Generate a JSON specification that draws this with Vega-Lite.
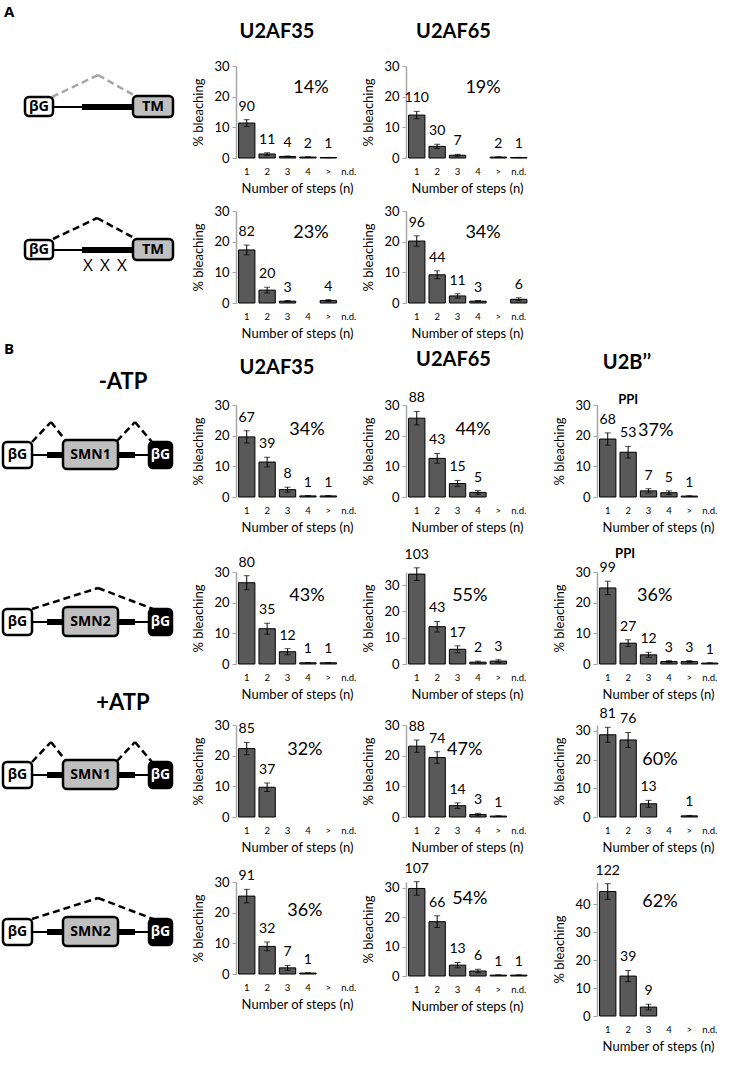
{
"$schema": "https://vega.github.io/schema/vega-lite/v6.json",
"padding": {"top": 5, "left": 0, "right": 0, "bottom": 0},
"background": "white",
"columns": 4,
"spacing": {"row": 20, "column": 48},
"bounds": "flush",
"datasets": {
"bars": [
{"c":"A1c1","cat":"1","val":11.4,"err":1.1,"n":90},{"c":"A1c1","cat":"2","val":1.3,"err":0.4,"n":11},{"c":"A1c1","cat":"3","val":0.5,"err":0.15,"n":4},{"c":"A1c1","cat":"4","val":0.3,"err":0.1,"n":2},{"c":"A1c1","cat":">","val":0.15,"err":0.05,"n":1},
{"c":"A1c2","cat":"1","val":14.0,"err":1.2,"n":110},{"c":"A1c2","cat":"2","val":3.8,"err":0.7,"n":30},{"c":"A1c2","cat":"3","val":0.9,"err":0.3,"n":7},{"c":"A1c2","cat":">","val":0.3,"err":0.1,"n":2},{"c":"A1c2","cat":"n.d.","val":0.15,"err":0.05,"n":1},
{"c":"A2c1","cat":"1","val":17.3,"err":1.6,"n":82},{"c":"A2c1","cat":"2","val":4.2,"err":0.9,"n":20},{"c":"A2c1","cat":"3","val":0.6,"err":0.2,"n":3},{"c":"A2c1","cat":">","val":0.8,"err":0.3,"n":4},
{"c":"A2c2","cat":"1","val":20.2,"err":1.7,"n":96},{"c":"A2c2","cat":"2","val":9.2,"err":1.3,"n":44},{"c":"A2c2","cat":"3","val":2.3,"err":0.7,"n":11},{"c":"A2c2","cat":"4","val":0.6,"err":0.2,"n":3},{"c":"A2c2","cat":"n.d.","val":1.2,"err":0.5,"n":6},
{"c":"B1c1","cat":"1","val":19.6,"err":2.0,"n":67},{"c":"B1c1","cat":"2","val":11.4,"err":1.6,"n":39},{"c":"B1c1","cat":"3","val":2.4,"err":0.8,"n":8},{"c":"B1c1","cat":"4","val":0.35,"err":0.1,"n":1},{"c":"B1c1","cat":">","val":0.35,"err":0.1,"n":1},
{"c":"B1c2","cat":"1","val":25.7,"err":2.2,"n":88},{"c":"B1c2","cat":"2","val":12.6,"err":1.6,"n":43},{"c":"B1c2","cat":"3","val":4.4,"err":1.0,"n":15},{"c":"B1c2","cat":"4","val":1.5,"err":0.6,"n":5},
{"c":"B1c3","cat":"1","val":18.9,"err":2.0,"n":68},{"c":"B1c3","cat":"2","val":14.6,"err":1.9,"n":53},{"c":"B1c3","cat":"3","val":2.0,"err":0.7,"n":7},{"c":"B1c3","cat":"4","val":1.4,"err":0.6,"n":5},{"c":"B1c3","cat":">","val":0.3,"err":0.1,"n":1},
{"c":"B2c1","cat":"1","val":26.5,"err":2.3,"n":80},{"c":"B2c1","cat":"2","val":11.5,"err":1.8,"n":35},{"c":"B2c1","cat":"3","val":4.0,"err":1.0,"n":12},{"c":"B2c1","cat":"4","val":0.4,"err":0.1,"n":1},{"c":"B2c1","cat":">","val":0.4,"err":0.1,"n":1},
{"c":"B2c2","cat":"1","val":34.2,"err":2.4,"n":103},{"c":"B2c2","cat":"2","val":14.2,"err":2.0,"n":43},{"c":"B2c2","cat":"3","val":5.6,"err":1.3,"n":17},{"c":"B2c2","cat":"4","val":0.7,"err":0.4,"n":2},{"c":"B2c2","cat":">","val":1.1,"err":0.5,"n":3},
{"c":"B2c3","cat":"1","val":24.8,"err":2.2,"n":99},{"c":"B2c3","cat":"2","val":6.8,"err":1.1,"n":27},{"c":"B2c3","cat":"3","val":3.0,"err":0.8,"n":12},{"c":"B2c3","cat":"4","val":0.8,"err":0.3,"n":3},{"c":"B2c3","cat":">","val":0.8,"err":0.3,"n":3},{"c":"B2c3","cat":"n.d.","val":0.3,"err":0.1,"n":1},
{"c":"B3c1","cat":"1","val":22.3,"err":2.0,"n":85},{"c":"B3c1","cat":"2","val":9.7,"err":1.4,"n":37},
{"c":"B3c2","cat":"1","val":23.1,"err":2.0,"n":88},{"c":"B3c2","cat":"2","val":19.4,"err":1.9,"n":74},{"c":"B3c2","cat":"3","val":3.7,"err":0.9,"n":14},{"c":"B3c2","cat":"4","val":0.8,"err":0.4,"n":3},{"c":"B3c2","cat":">","val":0.3,"err":0.1,"n":1},
{"c":"B3c3","cat":"1","val":28.6,"err":2.6,"n":81},{"c":"B3c3","cat":"2","val":26.8,"err":2.6,"n":76},{"c":"B3c3","cat":"3","val":4.6,"err":1.2,"n":13},{"c":"B3c3","cat":">","val":0.4,"err":0.15,"n":1},
{"c":"B4c1","cat":"1","val":25.4,"err":2.2,"n":91},{"c":"B4c1","cat":"2","val":9.0,"err":1.4,"n":32},{"c":"B4c1","cat":"3","val":2.0,"err":0.8,"n":7},{"c":"B4c1","cat":"4","val":0.3,"err":0.1,"n":1},
{"c":"B4c2","cat":"1","val":29.8,"err":2.3,"n":107},{"c":"B4c2","cat":"2","val":18.5,"err":2.0,"n":66},{"c":"B4c2","cat":"3","val":3.7,"err":0.9,"n":13},{"c":"B4c2","cat":"4","val":1.7,"err":0.6,"n":6},{"c":"B4c2","cat":">","val":0.3,"err":0.1,"n":1},{"c":"B4c2","cat":"n.d.","val":0.3,"err":0.1,"n":1},
{"c":"B4c3","cat":"1","val":44.6,"err":2.8,"n":122},{"c":"B4c3","cat":"2","val":14.3,"err":2.0,"n":39},{"c":"B4c3","cat":"3","val":3.2,"err":1.0,"n":9}
],
"notes": [
{"c":"A1c1","k":"pct","xi":3.15,"yv":22.8,"t":"14%"},{"c":"A1c2","k":"pct","xi":3.25,"yv":22.8,"t":"19%"},
{"c":"A2c1","k":"pct","xi":3.15,"yv":22.8,"t":"23%"},{"c":"A2c2","k":"pct","xi":3.25,"yv":22.8,"t":"34%"},
{"c":"B1c1","k":"pct","xi":2.95,"yv":21.8,"t":"34%"},{"c":"B1c2","k":"pct","xi":2.76,"yv":21.8,"t":"44%"},{"c":"B1c3","k":"pct","xi":2.35,"yv":21.5,"t":"37%"},{"c":"B1c3","k":"ppi","xi":1.0,"yv":31.6,"t":"PPI"},
{"c":"B2c1","k":"pct","xi":2.95,"yv":22.3,"t":"43%"},{"c":"B2c2","k":"pct","xi":2.6,"yv":26,"t":"55%"},{"c":"B2c3","k":"pct","xi":2.3,"yv":22.3,"t":"36%"},{"c":"B2c3","k":"ppi","xi":0.85,"yv":35.8,"t":"PPI"},
{"c":"B3c1","k":"pct","xi":2.85,"yv":22,"t":"32%"},{"c":"B3c2","k":"pct","xi":2.35,"yv":22,"t":"47%"},{"c":"B3c3","k":"pct","xi":2.56,"yv":19.7,"t":"60%"},
{"c":"B4c1","k":"pct","xi":2.85,"yv":20.5,"t":"36%"},{"c":"B4c2","k":"pct","xi":2.6,"yv":26.2,"t":"54%"},{"c":"B4c3","k":"pct","xi":2.56,"yv":41,"t":"62%"}
],
"schem": [
{"r":"A1","e":"panel","x":4,"y":-61,"t":"A"},
{"r":"A1","e":"dashg","x":52,"y":31,"x2":98,"y2":9},{"r":"A1","e":"dashg","x":98,"y":9,"x2":137,"y2":31},
{"r":"A1","e":"thin","x":53,"y":41,"x2":82,"y2":41},{"r":"A1","e":"thick","x":82,"y":41,"x2":134,"y2":41},
{"r":"A1","e":"box","k":"white","x":25,"y":31,"x2":53,"y2":50},{"r":"A1","e":"box","k":"gray","x":133,"y":30,"x2":173,"y2":51},
{"r":"A1","e":"lbl","x":39,"y":40.5,"t":"βG"},{"r":"A1","e":"lbl","x":153,"y":40.5,"t":"TM"},
{"r":"A2","e":"dash","x":53,"y":28,"x2":97,"y2":7},{"r":"A2","e":"dash","x":97,"y":7,"x2":136,"y2":28},
{"r":"A2","e":"thin","x":53,"y":39,"x2":82,"y2":39},{"r":"A2","e":"thick","x":82,"y":39,"x2":134,"y2":39},
{"r":"A2","e":"box","k":"white","x":25,"y":29,"x2":53,"y2":48},{"r":"A2","e":"box","k":"gray","x":133,"y":28,"x2":173,"y2":49},
{"r":"A2","e":"lbl","x":39,"y":38.5,"t":"βG"},{"r":"A2","e":"lbl","x":153,"y":38.5,"t":"TM"},
{"r":"A2","e":"X","x":88,"y":55,"t":"X"},{"r":"A2","e":"X","x":105,"y":55,"t":"X"},{"r":"A2","e":"X","x":122,"y":55,"t":"X"},
{"r":"B1","e":"panel","x":4,"y":-63,"t":"B"},{"r":"B1","e":"cond","x":123,"y":-23,"t":"-ATP"},
{"r":"B1","e":"dash","x":32,"y":37,"x2":51,"y2":17},{"r":"B1","e":"dash","x":51,"y":17,"x2":66,"y2":36},{"r":"B1","e":"dash","x":117,"y":36,"x2":135,"y2":17},{"r":"B1","e":"dash","x":135,"y":17,"x2":152,"y2":37},
{"r":"B1","e":"thin","x":33,"y":50,"x2":150,"y2":50},{"r":"B1","e":"thick","x":47,"y":50,"x2":63,"y2":50},{"r":"B1","e":"thick","x":118,"y":50,"x2":135,"y2":50},
{"r":"B1","e":"box","k":"white","x":3,"y":37,"x2":32,"y2":63},{"r":"B1","e":"box","k":"gray","x":63,"y":35,"x2":118,"y2":64},{"r":"B1","e":"box","k":"black","x":149,"y":37,"x2":172,"y2":63},
{"r":"B1","e":"lbl","x":17.5,"y":50,"t":"βG"},{"r":"B1","e":"lbl","x":90.5,"y":50,"t":"SMN1"},{"r":"B1","e":"lblw","x":160.5,"y":50,"t":"βG"},
{"r":"B2","e":"dash","x":32,"y":37,"x2":98,"y2":16},{"r":"B2","e":"dash","x":98,"y":16,"x2":153,"y2":37},
{"r":"B2","e":"thin","x":33,"y":50,"x2":150,"y2":50},{"r":"B2","e":"thick","x":47,"y":50,"x2":63,"y2":50},{"r":"B2","e":"thick","x":118,"y":50,"x2":135,"y2":50},
{"r":"B2","e":"box","k":"white","x":3,"y":37,"x2":32,"y2":63},{"r":"B2","e":"box","k":"gray","x":63,"y":35,"x2":118,"y2":64},{"r":"B2","e":"box","k":"black","x":149,"y":37,"x2":172,"y2":63},
{"r":"B2","e":"lbl","x":17.5,"y":50,"t":"βG"},{"r":"B2","e":"lbl","x":90.5,"y":50,"t":"SMN2"},{"r":"B2","e":"lblw","x":160.5,"y":50,"t":"βG"},
{"r":"B3","e":"cond","x":123,"y":-22,"t":"+ATP"},
{"r":"B3","e":"dash","x":32,"y":37,"x2":51,"y2":17},{"r":"B3","e":"dash","x":51,"y":17,"x2":66,"y2":36},{"r":"B3","e":"dash","x":117,"y":36,"x2":135,"y2":17},{"r":"B3","e":"dash","x":135,"y":17,"x2":152,"y2":37},
{"r":"B3","e":"thin","x":33,"y":50,"x2":150,"y2":50},{"r":"B3","e":"thick","x":47,"y":50,"x2":63,"y2":50},{"r":"B3","e":"thick","x":118,"y":50,"x2":135,"y2":50},
{"r":"B3","e":"box","k":"white","x":3,"y":37,"x2":32,"y2":63},{"r":"B3","e":"box","k":"gray","x":63,"y":35,"x2":118,"y2":64},{"r":"B3","e":"box","k":"black","x":149,"y":37,"x2":172,"y2":63},
{"r":"B3","e":"lbl","x":17.5,"y":50,"t":"βG"},{"r":"B3","e":"lbl","x":90.5,"y":50,"t":"SMN1"},{"r":"B3","e":"lblw","x":160.5,"y":50,"t":"βG"},
{"r":"B4","e":"dash","x":32,"y":37,"x2":98,"y2":16},{"r":"B4","e":"dash","x":98,"y":16,"x2":153,"y2":37},
{"r":"B4","e":"thin","x":33,"y":50,"x2":150,"y2":50},{"r":"B4","e":"thick","x":47,"y":50,"x2":63,"y2":50},{"r":"B4","e":"thick","x":118,"y":50,"x2":135,"y2":50},
{"r":"B4","e":"box","k":"white","x":3,"y":37,"x2":32,"y2":63},{"r":"B4","e":"box","k":"gray","x":63,"y":35,"x2":118,"y2":64},{"r":"B4","e":"box","k":"black","x":149,"y":37,"x2":172,"y2":63},
{"r":"B4","e":"lbl","x":17.5,"y":50,"t":"βG"},{"r":"B4","e":"lbl","x":90.5,"y":50,"t":"SMN2"},{"r":"B4","e":"lblw","x":160.5,"y":50,"t":"βG"}
]
},
"concat": [
{"width":188,"height":125,"data":{"name":"schem"},"transform":[{"filter":"datum.r==='A1'"}],"layer":[
{"transform":[{"filter":"datum.e==='dashg'"}],"mark":{"type":"rule","strokeDash":[7,4],"strokeWidth":2.5,"color":"#a6a6a6"},"encoding":{"x":{"field":"x","type":"quantitative","scale":{"domain":[0,188],"nice":false,"zero":false},"axis":null},"y":{"field":"y","type":"quantitative","scale":{"domain":[0,125],"reverse":true,"nice":false,"zero":false},"axis":null},"x2":{"field":"x2"},"y2":{"field":"y2"}}},
{"transform":[{"filter":"datum.e==='thin'"}],"mark":{"type":"rule","strokeWidth":2,"color":"#000"},"encoding":{"x":{"field":"x","type":"quantitative"},"y":{"field":"y","type":"quantitative"},"x2":{"field":"x2"},"y2":{"field":"y2"}}},
{"transform":[{"filter":"datum.e==='thick'"}],"mark":{"type":"rule","strokeWidth":6,"color":"#000"},"encoding":{"x":{"field":"x","type":"quantitative"},"y":{"field":"y","type":"quantitative"},"x2":{"field":"x2"},"y2":{"field":"y2"}}},
{"transform":[{"filter":"datum.e==='box'"}],"mark":{"type":"rect","stroke":"#000","strokeWidth":2.5,"cornerRadius":4},"encoding":{"x":{"field":"x","type":"quantitative"},"y":{"field":"y","type":"quantitative"},"x2":{"field":"x2"},"y2":{"field":"y2"},"fill":{"field":"k","type":"nominal","scale":{"domain":["white","gray","black"],"range":["#ffffff","#bfbfbf","#000000"]},"legend":null}}},
{"transform":[{"filter":"datum.e==='lbl'"}],"mark":{"type":"text","font":"Open Sans","fontWeight":"bold","fontSize":14.5,"color":"#000"},"encoding":{"x":{"field":"x","type":"quantitative"},"y":{"field":"y","type":"quantitative"},"text":{"field":"t"}}},
{"transform":[{"filter":"datum.e==='panel'"}],"mark":{"type":"text","font":"Open Sans","fontWeight":"bold","fontSize":15,"align":"left","baseline":"top","color":"#000"},"encoding":{"x":{"field":"x","type":"quantitative"},"y":{"field":"y","type":"quantitative"},"text":{"field":"t"}}}
]},
{"width":122,"height":92,"title":{"text":"U2AF35","dx":-20},"layer":[
{"data":{"name":"bars"},"transform":[{"filter":"datum.c==='A1c1'"}],"layer":[
{"mark":{"type":"bar","fill":"#595959","stroke":"#000","strokeWidth":1},"encoding":{"x":{"field":"cat","type":"nominal","title":"Number of steps (n)","scale":{"domain":["1","2","3","4",">","n.d."],"paddingInner":0.2,"paddingOuter":0.09,"align":0.7}},"y":{"field":"val","type":"quantitative","scale":{"domain":[0,30]},"title":"% bleaching"}}},
{"mark":{"type":"errorbar","ticks":true,"color":"#000","thickness":1,"size":6},"encoding":{"x":{"field":"cat","type":"nominal","title":"Number of steps (n)"},"y":{"field":"val","type":"quantitative","scale":{"domain":[0,30]},"title":"% bleaching"},"yError":{"field":"err"}}},
{"transform":[{"calculate":"datum.val+datum.err","as":"top"}],"mark":{"type":"text","baseline":"bottom","dy":-6},"encoding":{"x":{"field":"cat","type":"nominal","title":"Number of steps (n)"},"y":{"field":"top","type":"quantitative","scale":{"domain":[0,30]},"title":"% bleaching"},"text":{"field":"n"}}}
]},
{"data":{"name":"notes"},"transform":[{"filter":"datum.c==='A1c1' && datum.k==='pct'"}],"mark":{"type":"text","fontSize":18},"encoding":{"x":{"field":"xi","type":"quantitative","scale":{"domain":[-0.527,5.453],"nice":false,"zero":false},"axis":null},"y":{"field":"yv","type":"quantitative","scale":{"domain":[0,30]},"title":"% bleaching"},"text":{"field":"t"}}}
],"resolve":{"scale":{"x":"independent"}}},
{"width":143,"height":92,"title":{"text":"U2AF65","dx":-24},"layer":[
{"data":{"name":"bars"},"transform":[{"filter":"datum.c==='A1c2'"}],"layer":[
{"mark":{"type":"bar","fill":"#595959","stroke":"#000","strokeWidth":1},"encoding":{"x":{"field":"cat","type":"nominal","title":"Number of steps (n)","scale":{"domain":["1","2","3","4",">","n.d."],"paddingInner":0.2,"paddingOuter":0.605,"align":0.105},"axis":{"titleX":61}},"y":{"field":"val","type":"quantitative","scale":{"domain":[0,30]},"title":"% bleaching"}}},
{"mark":{"type":"errorbar","ticks":true,"color":"#000","thickness":1,"size":6},"encoding":{"x":{"field":"cat","type":"nominal","title":"Number of steps (n)"},"y":{"field":"val","type":"quantitative","scale":{"domain":[0,30]},"title":"% bleaching"},"yError":{"field":"err"}}},
{"transform":[{"calculate":"datum.val+datum.err","as":"top"}],"mark":{"type":"text","baseline":"bottom","dy":-6},"encoding":{"x":{"field":"cat","type":"nominal","title":"Number of steps (n)"},"y":{"field":"top","type":"quantitative","scale":{"domain":[0,30]},"title":"% bleaching"},"text":{"field":"n"}}}
]},
{"data":{"name":"notes"},"transform":[{"filter":"datum.c==='A1c2' && datum.k==='pct'"}],"mark":{"type":"text","fontSize":18},"encoding":{"x":{"field":"xi","type":"quantitative","scale":{"domain":[-0.527,6.483],"nice":false,"zero":false},"axis":null},"y":{"field":"yv","type":"quantitative","scale":{"domain":[0,30]},"title":"% bleaching"},"text":{"field":"t"}}}
],"resolve":{"scale":{"x":"independent"}}},
{"width":122,"height":10,"data":{"values":[]},"mark":"point"},

{"width":188,"height":174,"data":{"name":"schem"},"transform":[{"filter":"datum.r==='A2'"}],"layer":[
{"transform":[{"filter":"datum.e==='dash'"}],"mark":{"type":"rule","strokeDash":[7,4],"strokeWidth":2.5,"color":"#000"},"encoding":{"x":{"field":"x","type":"quantitative","scale":{"domain":[0,188],"nice":false,"zero":false},"axis":null},"y":{"field":"y","type":"quantitative","scale":{"domain":[0,174],"reverse":true,"nice":false,"zero":false},"axis":null},"x2":{"field":"x2"},"y2":{"field":"y2"}}},
{"transform":[{"filter":"datum.e==='thin'"}],"mark":{"type":"rule","strokeWidth":2,"color":"#000"},"encoding":{"x":{"field":"x","type":"quantitative"},"y":{"field":"y","type":"quantitative"},"x2":{"field":"x2"},"y2":{"field":"y2"}}},
{"transform":[{"filter":"datum.e==='thick'"}],"mark":{"type":"rule","strokeWidth":6,"color":"#000"},"encoding":{"x":{"field":"x","type":"quantitative"},"y":{"field":"y","type":"quantitative"},"x2":{"field":"x2"},"y2":{"field":"y2"}}},
{"transform":[{"filter":"datum.e==='box'"}],"mark":{"type":"rect","stroke":"#000","strokeWidth":2.5,"cornerRadius":4},"encoding":{"x":{"field":"x","type":"quantitative"},"y":{"field":"y","type":"quantitative"},"x2":{"field":"x2"},"y2":{"field":"y2"},"fill":{"field":"k","type":"nominal","scale":{"domain":["white","gray","black"],"range":["#ffffff","#bfbfbf","#000000"]},"legend":null}}},
{"transform":[{"filter":"datum.e==='lbl'"}],"mark":{"type":"text","font":"Open Sans","fontWeight":"bold","fontSize":14.5,"color":"#000"},"encoding":{"x":{"field":"x","type":"quantitative"},"y":{"field":"y","type":"quantitative"},"text":{"field":"t"}}},
{"transform":[{"filter":"datum.e==='X'"}],"mark":{"type":"text","font":"Open Sans","fontSize":17,"color":"#000"},"encoding":{"x":{"field":"x","type":"quantitative"},"y":{"field":"y","type":"quantitative"},"text":{"field":"t"}}}
]},
{"width":122,"height":92,"layer":[
{"data":{"name":"bars"},"transform":[{"filter":"datum.c==='A2c1'"}],"layer":[
{"mark":{"type":"bar","fill":"#595959","stroke":"#000","strokeWidth":1},"encoding":{"x":{"field":"cat","type":"nominal","title":"Number of steps (n)","scale":{"domain":["1","2","3","4",">","n.d."],"paddingInner":0.2,"paddingOuter":0.09,"align":0.7}},"y":{"field":"val","type":"quantitative","scale":{"domain":[0,30]},"title":"% bleaching"}}},
{"mark":{"type":"errorbar","ticks":true,"color":"#000","thickness":1,"size":6},"encoding":{"x":{"field":"cat","type":"nominal","title":"Number of steps (n)"},"y":{"field":"val","type":"quantitative","scale":{"domain":[0,30]},"title":"% bleaching"},"yError":{"field":"err"}}},
{"transform":[{"calculate":"datum.val+datum.err","as":"top"}],"mark":{"type":"text","baseline":"bottom","dy":-6},"encoding":{"x":{"field":"cat","type":"nominal","title":"Number of steps (n)"},"y":{"field":"top","type":"quantitative","scale":{"domain":[0,30]},"title":"% bleaching"},"text":{"field":"n"}}}
]},
{"data":{"name":"notes"},"transform":[{"filter":"datum.c==='A2c1' && datum.k==='pct'"}],"mark":{"type":"text","fontSize":18},"encoding":{"x":{"field":"xi","type":"quantitative","scale":{"domain":[-0.527,5.453],"nice":false,"zero":false},"axis":null},"y":{"field":"yv","type":"quantitative","scale":{"domain":[0,30]},"title":"% bleaching"},"text":{"field":"t"}}}
],"resolve":{"scale":{"x":"independent"}}},
{"width":143,"height":92,"layer":[
{"data":{"name":"bars"},"transform":[{"filter":"datum.c==='A2c2'"}],"layer":[
{"mark":{"type":"bar","fill":"#595959","stroke":"#000","strokeWidth":1},"encoding":{"x":{"field":"cat","type":"nominal","title":"Number of steps (n)","scale":{"domain":["1","2","3","4",">","n.d."],"paddingInner":0.2,"paddingOuter":0.605,"align":0.105},"axis":{"titleX":61}},"y":{"field":"val","type":"quantitative","scale":{"domain":[0,30]},"title":"% bleaching"}}},
{"mark":{"type":"errorbar","ticks":true,"color":"#000","thickness":1,"size":6},"encoding":{"x":{"field":"cat","type":"nominal","title":"Number of steps (n)"},"y":{"field":"val","type":"quantitative","scale":{"domain":[0,30]},"title":"% bleaching"},"yError":{"field":"err"}}},
{"transform":[{"calculate":"datum.val+datum.err","as":"top"}],"mark":{"type":"text","baseline":"bottom","dy":-6},"encoding":{"x":{"field":"cat","type":"nominal","title":"Number of steps (n)"},"y":{"field":"top","type":"quantitative","scale":{"domain":[0,30]},"title":"% bleaching"},"text":{"field":"n"}}}
]},
{"data":{"name":"notes"},"transform":[{"filter":"datum.c==='A2c2' && datum.k==='pct'"}],"mark":{"type":"text","fontSize":18},"encoding":{"x":{"field":"xi","type":"quantitative","scale":{"domain":[-0.527,6.483],"nice":false,"zero":false},"axis":null},"y":{"field":"yv","type":"quantitative","scale":{"domain":[0,30]},"title":"% bleaching"},"text":{"field":"t"}}}
],"resolve":{"scale":{"x":"independent"}}},
{"width":122,"height":10,"data":{"values":[]},"mark":"point"},

{"width":188,"height":147,"data":{"name":"schem"},"transform":[{"filter":"datum.r==='B1'"}],"layer":[
{"transform":[{"filter":"datum.e==='dash'"}],"mark":{"type":"rule","strokeDash":[7,4],"strokeWidth":2.5,"color":"#000"},"encoding":{"x":{"field":"x","type":"quantitative","scale":{"domain":[0,188],"nice":false,"zero":false},"axis":null},"y":{"field":"y","type":"quantitative","scale":{"domain":[0,147],"reverse":true,"nice":false,"zero":false},"axis":null},"x2":{"field":"x2"},"y2":{"field":"y2"}}},
{"transform":[{"filter":"datum.e==='thin'"}],"mark":{"type":"rule","strokeWidth":2,"color":"#000"},"encoding":{"x":{"field":"x","type":"quantitative"},"y":{"field":"y","type":"quantitative"},"x2":{"field":"x2"},"y2":{"field":"y2"}}},
{"transform":[{"filter":"datum.e==='thick'"}],"mark":{"type":"rule","strokeWidth":6,"color":"#000"},"encoding":{"x":{"field":"x","type":"quantitative"},"y":{"field":"y","type":"quantitative"},"x2":{"field":"x2"},"y2":{"field":"y2"}}},
{"transform":[{"filter":"datum.e==='box'"}],"mark":{"type":"rect","stroke":"#000","strokeWidth":2.5,"cornerRadius":4},"encoding":{"x":{"field":"x","type":"quantitative"},"y":{"field":"y","type":"quantitative"},"x2":{"field":"x2"},"y2":{"field":"y2"},"fill":{"field":"k","type":"nominal","scale":{"domain":["white","gray","black"],"range":["#ffffff","#bfbfbf","#000000"]},"legend":null}}},
{"transform":[{"filter":"datum.e==='lbl'"}],"mark":{"type":"text","font":"Open Sans","fontWeight":"bold","fontSize":14,"color":"#000"},"encoding":{"x":{"field":"x","type":"quantitative"},"y":{"field":"y","type":"quantitative"},"text":{"field":"t"}}},
{"transform":[{"filter":"datum.e==='lblw'"}],"mark":{"type":"text","font":"Open Sans","fontWeight":"bold","fontSize":14,"color":"#fff"},"encoding":{"x":{"field":"x","type":"quantitative"},"y":{"field":"y","type":"quantitative"},"text":{"field":"t"}}},
{"transform":[{"filter":"datum.e==='cond'"}],"mark":{"type":"text","fontWeight":"bold","fontSize":22,"color":"#000"},"encoding":{"x":{"field":"x","type":"quantitative"},"y":{"field":"y","type":"quantitative"},"text":{"field":"t"}}},
{"transform":[{"filter":"datum.e==='panel'"}],"mark":{"type":"text","font":"Open Sans","fontWeight":"bold","fontSize":15,"align":"left","baseline":"top","color":"#000"},"encoding":{"x":{"field":"x","type":"quantitative"},"y":{"field":"y","type":"quantitative"},"text":{"field":"t"}}}
]},
{"width":122,"height":92,"title":{"text":"U2AF35","dx":-20,"offset":21},"layer":[
{"data":{"name":"bars"},"transform":[{"filter":"datum.c==='B1c1'"}],"layer":[
{"mark":{"type":"bar","fill":"#595959","stroke":"#000","strokeWidth":1},"encoding":{"x":{"field":"cat","type":"nominal","title":"Number of steps (n)","scale":{"domain":["1","2","3","4",">","n.d."],"paddingInner":0.2,"paddingOuter":0.09,"align":0.7}},"y":{"field":"val","type":"quantitative","scale":{"domain":[0,30]},"title":"% bleaching"}}},
{"mark":{"type":"errorbar","ticks":true,"color":"#000","thickness":1,"size":6},"encoding":{"x":{"field":"cat","type":"nominal","title":"Number of steps (n)"},"y":{"field":"val","type":"quantitative","scale":{"domain":[0,30]},"title":"% bleaching"},"yError":{"field":"err"}}},
{"transform":[{"calculate":"datum.val+datum.err","as":"top"}],"mark":{"type":"text","baseline":"bottom","dy":-6},"encoding":{"x":{"field":"cat","type":"nominal","title":"Number of steps (n)"},"y":{"field":"top","type":"quantitative","scale":{"domain":[0,30]},"title":"% bleaching"},"text":{"field":"n"}}}
]},
{"data":{"name":"notes"},"transform":[{"filter":"datum.c==='B1c1' && datum.k==='pct'"}],"mark":{"type":"text","fontSize":18},"encoding":{"x":{"field":"xi","type":"quantitative","scale":{"domain":[-0.527,5.453],"nice":false,"zero":false},"axis":null},"y":{"field":"yv","type":"quantitative","scale":{"domain":[0,30]},"title":"% bleaching"},"text":{"field":"t"}}}
],"resolve":{"scale":{"x":"independent"}}},
{"width":143,"height":92,"title":{"text":"U2AF65","dx":-24,"offset":21},"layer":[
{"data":{"name":"bars"},"transform":[{"filter":"datum.c==='B1c2'"}],"layer":[
{"mark":{"type":"bar","fill":"#595959","stroke":"#000","strokeWidth":1},"encoding":{"x":{"field":"cat","type":"nominal","title":"Number of steps (n)","scale":{"domain":["1","2","3","4",">","n.d."],"paddingInner":0.2,"paddingOuter":0.605,"align":0.105},"axis":{"titleX":61}},"y":{"field":"val","type":"quantitative","scale":{"domain":[0,30]},"title":"% bleaching"}}},
{"mark":{"type":"errorbar","ticks":true,"color":"#000","thickness":1,"size":6},"encoding":{"x":{"field":"cat","type":"nominal","title":"Number of steps (n)"},"y":{"field":"val","type":"quantitative","scale":{"domain":[0,30]},"title":"% bleaching"},"yError":{"field":"err"}}},
{"transform":[{"calculate":"datum.val+datum.err","as":"top"}],"mark":{"type":"text","baseline":"bottom","dy":-6},"encoding":{"x":{"field":"cat","type":"nominal","title":"Number of steps (n)"},"y":{"field":"top","type":"quantitative","scale":{"domain":[0,30]},"title":"% bleaching"},"text":{"field":"n"}}}
]},
{"data":{"name":"notes"},"transform":[{"filter":"datum.c==='B1c2' && datum.k==='pct'"}],"mark":{"type":"text","fontSize":18},"encoding":{"x":{"field":"xi","type":"quantitative","scale":{"domain":[-0.527,6.483],"nice":false,"zero":false},"axis":null},"y":{"field":"yv","type":"quantitative","scale":{"domain":[0,30]},"title":"% bleaching"},"text":{"field":"t"}}}
],"resolve":{"scale":{"x":"independent"}}},
{"width":122,"height":92,"title":{"text":"U2B’’","dx":-31,"offset":21},"layer":[
{"data":{"name":"bars"},"transform":[{"filter":"datum.c==='B1c3'"}],"layer":[
{"mark":{"type":"bar","fill":"#595959","stroke":"#000","strokeWidth":1},"encoding":{"x":{"field":"cat","type":"nominal","title":"Number of steps (n)","scale":{"domain":["1","2","3","4",">","n.d."],"paddingInner":0.2,"paddingOuter":0.09,"align":0.7}},"y":{"field":"val","type":"quantitative","scale":{"domain":[0,30]},"title":"% bleaching"}}},
{"mark":{"type":"errorbar","ticks":true,"color":"#000","thickness":1,"size":6},"encoding":{"x":{"field":"cat","type":"nominal","title":"Number of steps (n)"},"y":{"field":"val","type":"quantitative","scale":{"domain":[0,30]},"title":"% bleaching"},"yError":{"field":"err"}}},
{"transform":[{"calculate":"datum.val+datum.err","as":"top"}],"mark":{"type":"text","baseline":"bottom","dy":-6},"encoding":{"x":{"field":"cat","type":"nominal","title":"Number of steps (n)"},"y":{"field":"top","type":"quantitative","scale":{"domain":[0,30]},"title":"% bleaching"},"text":{"field":"n"}}}
]},
{"data":{"name":"notes"},"transform":[{"filter":"datum.c==='B1c3' && datum.k==='pct'"}],"mark":{"type":"text","fontSize":18},"encoding":{"x":{"field":"xi","type":"quantitative","scale":{"domain":[-0.527,5.453],"nice":false,"zero":false},"axis":null},"y":{"field":"yv","type":"quantitative","scale":{"domain":[0,30]},"title":"% bleaching"},"text":{"field":"t"}}},
{"data":{"name":"notes"},"transform":[{"filter":"datum.c==='B1c3' && datum.k==='ppi'"}],"mark":{"type":"text","fontSize":13,"fontWeight":"bold"},"encoding":{"x":{"field":"xi","type":"quantitative","scale":{"domain":[-0.527,5.453],"nice":false,"zero":false},"axis":null},"y":{"field":"yv","type":"quantitative","scale":{"domain":[0,30]},"title":"% bleaching"},"text":{"field":"t"}}}
],"resolve":{"scale":{"x":"independent"}}},

{"width":188,"height":133,"data":{"name":"schem"},"transform":[{"filter":"datum.r==='B2'"}],"layer":[
{"transform":[{"filter":"datum.e==='dash'"}],"mark":{"type":"rule","strokeDash":[7,4],"strokeWidth":2.5,"color":"#000"},"encoding":{"x":{"field":"x","type":"quantitative","scale":{"domain":[0,188],"nice":false,"zero":false},"axis":null},"y":{"field":"y","type":"quantitative","scale":{"domain":[0,133],"reverse":true,"nice":false,"zero":false},"axis":null},"x2":{"field":"x2"},"y2":{"field":"y2"}}},
{"transform":[{"filter":"datum.e==='thin'"}],"mark":{"type":"rule","strokeWidth":2,"color":"#000"},"encoding":{"x":{"field":"x","type":"quantitative"},"y":{"field":"y","type":"quantitative"},"x2":{"field":"x2"},"y2":{"field":"y2"}}},
{"transform":[{"filter":"datum.e==='thick'"}],"mark":{"type":"rule","strokeWidth":6,"color":"#000"},"encoding":{"x":{"field":"x","type":"quantitative"},"y":{"field":"y","type":"quantitative"},"x2":{"field":"x2"},"y2":{"field":"y2"}}},
{"transform":[{"filter":"datum.e==='box'"}],"mark":{"type":"rect","stroke":"#000","strokeWidth":2.5,"cornerRadius":4},"encoding":{"x":{"field":"x","type":"quantitative"},"y":{"field":"y","type":"quantitative"},"x2":{"field":"x2"},"y2":{"field":"y2"},"fill":{"field":"k","type":"nominal","scale":{"domain":["white","gray","black"],"range":["#ffffff","#bfbfbf","#000000"]},"legend":null}}},
{"transform":[{"filter":"datum.e==='lbl'"}],"mark":{"type":"text","font":"Open Sans","fontWeight":"bold","fontSize":14,"color":"#000"},"encoding":{"x":{"field":"x","type":"quantitative"},"y":{"field":"y","type":"quantitative"},"text":{"field":"t"}}},
{"transform":[{"filter":"datum.e==='lblw'"}],"mark":{"type":"text","font":"Open Sans","fontWeight":"bold","fontSize":14,"color":"#fff"},"encoding":{"x":{"field":"x","type":"quantitative"},"y":{"field":"y","type":"quantitative"},"text":{"field":"t"}}}
]},
{"width":122,"height":92,"layer":[
{"data":{"name":"bars"},"transform":[{"filter":"datum.c==='B2c1'"}],"layer":[
{"mark":{"type":"bar","fill":"#595959","stroke":"#000","strokeWidth":1},"encoding":{"x":{"field":"cat","type":"nominal","title":"Number of steps (n)","scale":{"domain":["1","2","3","4",">","n.d."],"paddingInner":0.2,"paddingOuter":0.09,"align":0.7}},"y":{"field":"val","type":"quantitative","scale":{"domain":[0,30]},"title":"% bleaching"}}},
{"mark":{"type":"errorbar","ticks":true,"color":"#000","thickness":1,"size":6},"encoding":{"x":{"field":"cat","type":"nominal","title":"Number of steps (n)"},"y":{"field":"val","type":"quantitative","scale":{"domain":[0,30]},"title":"% bleaching"},"yError":{"field":"err"}}},
{"transform":[{"calculate":"datum.val+datum.err","as":"top"}],"mark":{"type":"text","baseline":"bottom","dy":-6},"encoding":{"x":{"field":"cat","type":"nominal","title":"Number of steps (n)"},"y":{"field":"top","type":"quantitative","scale":{"domain":[0,30]},"title":"% bleaching"},"text":{"field":"n"}}}
]},
{"data":{"name":"notes"},"transform":[{"filter":"datum.c==='B2c1' && datum.k==='pct'"}],"mark":{"type":"text","fontSize":18},"encoding":{"x":{"field":"xi","type":"quantitative","scale":{"domain":[-0.527,5.453],"nice":false,"zero":false},"axis":null},"y":{"field":"yv","type":"quantitative","scale":{"domain":[0,30]},"title":"% bleaching"},"text":{"field":"t"}}}
],"resolve":{"scale":{"x":"independent"}}},
{"width":143,"height":92,"layer":[
{"data":{"name":"bars"},"transform":[{"filter":"datum.c==='B2c2'"}],"layer":[
{"mark":{"type":"bar","fill":"#595959","stroke":"#000","strokeWidth":1},"encoding":{"x":{"field":"cat","type":"nominal","title":"Number of steps (n)","scale":{"domain":["1","2","3","4",">","n.d."],"paddingInner":0.2,"paddingOuter":0.605,"align":0.105},"axis":{"titleX":61}},"y":{"field":"val","type":"quantitative","scale":{"domain":[0,35]},"title":"% bleaching"}}},
{"mark":{"type":"errorbar","ticks":true,"color":"#000","thickness":1,"size":6},"encoding":{"x":{"field":"cat","type":"nominal","title":"Number of steps (n)"},"y":{"field":"val","type":"quantitative","scale":{"domain":[0,35]},"title":"% bleaching"},"yError":{"field":"err"}}},
{"transform":[{"calculate":"datum.val+datum.err","as":"top"}],"mark":{"type":"text","baseline":"bottom","dy":-6},"encoding":{"x":{"field":"cat","type":"nominal","title":"Number of steps (n)"},"y":{"field":"top","type":"quantitative","scale":{"domain":[0,35]},"title":"% bleaching"},"text":{"field":"n"}}}
]},
{"data":{"name":"notes"},"transform":[{"filter":"datum.c==='B2c2' && datum.k==='pct'"}],"mark":{"type":"text","fontSize":18},"encoding":{"x":{"field":"xi","type":"quantitative","scale":{"domain":[-0.527,6.483],"nice":false,"zero":false},"axis":null},"y":{"field":"yv","type":"quantitative","scale":{"domain":[0,35]},"title":"% bleaching"},"text":{"field":"t"}}}
],"resolve":{"scale":{"x":"independent"}}},
{"width":122,"height":92,"layer":[
{"data":{"name":"bars"},"transform":[{"filter":"datum.c==='B2c3'"}],"layer":[
{"mark":{"type":"bar","fill":"#595959","stroke":"#000","strokeWidth":1},"encoding":{"x":{"field":"cat","type":"nominal","title":"Number of steps (n)","scale":{"domain":["1","2","3","4",">","n.d."],"paddingInner":0.2,"paddingOuter":0.09,"align":0.7}},"y":{"field":"val","type":"quantitative","scale":{"domain":[0,30]},"title":"% bleaching"}}},
{"mark":{"type":"errorbar","ticks":true,"color":"#000","thickness":1,"size":6},"encoding":{"x":{"field":"cat","type":"nominal","title":"Number of steps (n)"},"y":{"field":"val","type":"quantitative","scale":{"domain":[0,30]},"title":"% bleaching"},"yError":{"field":"err"}}},
{"transform":[{"calculate":"datum.val+datum.err","as":"top"}],"mark":{"type":"text","baseline":"bottom","dy":-6},"encoding":{"x":{"field":"cat","type":"nominal","title":"Number of steps (n)"},"y":{"field":"top","type":"quantitative","scale":{"domain":[0,30]},"title":"% bleaching"},"text":{"field":"n"}}}
]},
{"data":{"name":"notes"},"transform":[{"filter":"datum.c==='B2c3' && datum.k==='pct'"}],"mark":{"type":"text","fontSize":18},"encoding":{"x":{"field":"xi","type":"quantitative","scale":{"domain":[-0.527,5.453],"nice":false,"zero":false},"axis":null},"y":{"field":"yv","type":"quantitative","scale":{"domain":[0,30]},"title":"% bleaching"},"text":{"field":"t"}}},
{"data":{"name":"notes"},"transform":[{"filter":"datum.c==='B2c3' && datum.k==='ppi'"}],"mark":{"type":"text","fontSize":13,"fontWeight":"bold"},"encoding":{"x":{"field":"xi","type":"quantitative","scale":{"domain":[-0.527,5.453],"nice":false,"zero":false},"axis":null},"y":{"field":"yv","type":"quantitative","scale":{"domain":[0,30]},"title":"% bleaching"},"text":{"field":"t"}}}
],"resolve":{"scale":{"x":"independent"}}},

{"width":188,"height":137,"data":{"name":"schem"},"transform":[{"filter":"datum.r==='B3'"}],"layer":[
{"transform":[{"filter":"datum.e==='dash'"}],"mark":{"type":"rule","strokeDash":[7,4],"strokeWidth":2.5,"color":"#000"},"encoding":{"x":{"field":"x","type":"quantitative","scale":{"domain":[0,188],"nice":false,"zero":false},"axis":null},"y":{"field":"y","type":"quantitative","scale":{"domain":[0,137],"reverse":true,"nice":false,"zero":false},"axis":null},"x2":{"field":"x2"},"y2":{"field":"y2"}}},
{"transform":[{"filter":"datum.e==='thin'"}],"mark":{"type":"rule","strokeWidth":2,"color":"#000"},"encoding":{"x":{"field":"x","type":"quantitative"},"y":{"field":"y","type":"quantitative"},"x2":{"field":"x2"},"y2":{"field":"y2"}}},
{"transform":[{"filter":"datum.e==='thick'"}],"mark":{"type":"rule","strokeWidth":6,"color":"#000"},"encoding":{"x":{"field":"x","type":"quantitative"},"y":{"field":"y","type":"quantitative"},"x2":{"field":"x2"},"y2":{"field":"y2"}}},
{"transform":[{"filter":"datum.e==='box'"}],"mark":{"type":"rect","stroke":"#000","strokeWidth":2.5,"cornerRadius":4},"encoding":{"x":{"field":"x","type":"quantitative"},"y":{"field":"y","type":"quantitative"},"x2":{"field":"x2"},"y2":{"field":"y2"},"fill":{"field":"k","type":"nominal","scale":{"domain":["white","gray","black"],"range":["#ffffff","#bfbfbf","#000000"]},"legend":null}}},
{"transform":[{"filter":"datum.e==='lbl'"}],"mark":{"type":"text","font":"Open Sans","fontWeight":"bold","fontSize":14,"color":"#000"},"encoding":{"x":{"field":"x","type":"quantitative"},"y":{"field":"y","type":"quantitative"},"text":{"field":"t"}}},
{"transform":[{"filter":"datum.e==='lblw'"}],"mark":{"type":"text","font":"Open Sans","fontWeight":"bold","fontSize":14,"color":"#fff"},"encoding":{"x":{"field":"x","type":"quantitative"},"y":{"field":"y","type":"quantitative"},"text":{"field":"t"}}},
{"transform":[{"filter":"datum.e==='cond'"}],"mark":{"type":"text","fontWeight":"bold","fontSize":22,"color":"#000"},"encoding":{"x":{"field":"x","type":"quantitative"},"y":{"field":"y","type":"quantitative"},"text":{"field":"t"}}}
]},
{"width":122,"height":92,"layer":[
{"data":{"name":"bars"},"transform":[{"filter":"datum.c==='B3c1'"}],"layer":[
{"mark":{"type":"bar","fill":"#595959","stroke":"#000","strokeWidth":1},"encoding":{"x":{"field":"cat","type":"nominal","title":"Number of steps (n)","scale":{"domain":["1","2","3","4",">","n.d."],"paddingInner":0.2,"paddingOuter":0.09,"align":0.7}},"y":{"field":"val","type":"quantitative","scale":{"domain":[0,30]},"title":"% bleaching"}}},
{"mark":{"type":"errorbar","ticks":true,"color":"#000","thickness":1,"size":6},"encoding":{"x":{"field":"cat","type":"nominal","title":"Number of steps (n)"},"y":{"field":"val","type":"quantitative","scale":{"domain":[0,30]},"title":"% bleaching"},"yError":{"field":"err"}}},
{"transform":[{"calculate":"datum.val+datum.err","as":"top"}],"mark":{"type":"text","baseline":"bottom","dy":-6},"encoding":{"x":{"field":"cat","type":"nominal","title":"Number of steps (n)"},"y":{"field":"top","type":"quantitative","scale":{"domain":[0,30]},"title":"% bleaching"},"text":{"field":"n"}}}
]},
{"data":{"name":"notes"},"transform":[{"filter":"datum.c==='B3c1' && datum.k==='pct'"}],"mark":{"type":"text","fontSize":18},"encoding":{"x":{"field":"xi","type":"quantitative","scale":{"domain":[-0.527,5.453],"nice":false,"zero":false},"axis":null},"y":{"field":"yv","type":"quantitative","scale":{"domain":[0,30]},"title":"% bleaching"},"text":{"field":"t"}}}
],"resolve":{"scale":{"x":"independent"}}},
{"width":143,"height":92,"layer":[
{"data":{"name":"bars"},"transform":[{"filter":"datum.c==='B3c2'"}],"layer":[
{"mark":{"type":"bar","fill":"#595959","stroke":"#000","strokeWidth":1},"encoding":{"x":{"field":"cat","type":"nominal","title":"Number of steps (n)","scale":{"domain":["1","2","3","4",">","n.d."],"paddingInner":0.2,"paddingOuter":0.605,"align":0.105},"axis":{"titleX":61}},"y":{"field":"val","type":"quantitative","scale":{"domain":[0,30]},"title":"% bleaching"}}},
{"mark":{"type":"errorbar","ticks":true,"color":"#000","thickness":1,"size":6},"encoding":{"x":{"field":"cat","type":"nominal","title":"Number of steps (n)"},"y":{"field":"val","type":"quantitative","scale":{"domain":[0,30]},"title":"% bleaching"},"yError":{"field":"err"}}},
{"transform":[{"calculate":"datum.val+datum.err","as":"top"}],"mark":{"type":"text","baseline":"bottom","dy":-6},"encoding":{"x":{"field":"cat","type":"nominal","title":"Number of steps (n)"},"y":{"field":"top","type":"quantitative","scale":{"domain":[0,30]},"title":"% bleaching"},"text":{"field":"n"}}}
]},
{"data":{"name":"notes"},"transform":[{"filter":"datum.c==='B3c2' && datum.k==='pct'"}],"mark":{"type":"text","fontSize":18},"encoding":{"x":{"field":"xi","type":"quantitative","scale":{"domain":[-0.527,6.483],"nice":false,"zero":false},"axis":null},"y":{"field":"yv","type":"quantitative","scale":{"domain":[0,30]},"title":"% bleaching"},"text":{"field":"t"}}}
],"resolve":{"scale":{"x":"independent"}}},
{"width":122,"height":92,"layer":[
{"data":{"name":"bars"},"transform":[{"filter":"datum.c==='B3c3'"}],"layer":[
{"mark":{"type":"bar","fill":"#595959","stroke":"#000","strokeWidth":1},"encoding":{"x":{"field":"cat","type":"nominal","title":"Number of steps (n)","scale":{"domain":["1","2","3","4",">","n.d."],"paddingInner":0.2,"paddingOuter":0.09,"align":0.7}},"y":{"field":"val","type":"quantitative","scale":{"domain":[0,32]},"title":"% bleaching"}}},
{"mark":{"type":"errorbar","ticks":true,"color":"#000","thickness":1,"size":6},"encoding":{"x":{"field":"cat","type":"nominal","title":"Number of steps (n)"},"y":{"field":"val","type":"quantitative","scale":{"domain":[0,32]},"title":"% bleaching"},"yError":{"field":"err"}}},
{"transform":[{"calculate":"datum.val+datum.err","as":"top"}],"mark":{"type":"text","baseline":"bottom","dy":-6},"encoding":{"x":{"field":"cat","type":"nominal","title":"Number of steps (n)"},"y":{"field":"top","type":"quantitative","scale":{"domain":[0,32]},"title":"% bleaching"},"text":{"field":"n"}}}
]},
{"data":{"name":"notes"},"transform":[{"filter":"datum.c==='B3c3' && datum.k==='pct'"}],"mark":{"type":"text","fontSize":18},"encoding":{"x":{"field":"xi","type":"quantitative","scale":{"domain":[-0.527,5.453],"nice":false,"zero":false},"axis":null},"y":{"field":"yv","type":"quantitative","scale":{"domain":[0,32]},"title":"% bleaching"},"text":{"field":"t"}}}
],"resolve":{"scale":{"x":"independent"}}},

{"width":188,"height":134,"data":{"name":"schem"},"transform":[{"filter":"datum.r==='B4'"}],"layer":[
{"transform":[{"filter":"datum.e==='dash'"}],"mark":{"type":"rule","strokeDash":[7,4],"strokeWidth":2.5,"color":"#000"},"encoding":{"x":{"field":"x","type":"quantitative","scale":{"domain":[0,188],"nice":false,"zero":false},"axis":null},"y":{"field":"y","type":"quantitative","scale":{"domain":[0,134],"reverse":true,"nice":false,"zero":false},"axis":null},"x2":{"field":"x2"},"y2":{"field":"y2"}}},
{"transform":[{"filter":"datum.e==='thin'"}],"mark":{"type":"rule","strokeWidth":2,"color":"#000"},"encoding":{"x":{"field":"x","type":"quantitative"},"y":{"field":"y","type":"quantitative"},"x2":{"field":"x2"},"y2":{"field":"y2"}}},
{"transform":[{"filter":"datum.e==='thick'"}],"mark":{"type":"rule","strokeWidth":6,"color":"#000"},"encoding":{"x":{"field":"x","type":"quantitative"},"y":{"field":"y","type":"quantitative"},"x2":{"field":"x2"},"y2":{"field":"y2"}}},
{"transform":[{"filter":"datum.e==='box'"}],"mark":{"type":"rect","stroke":"#000","strokeWidth":2.5,"cornerRadius":4},"encoding":{"x":{"field":"x","type":"quantitative"},"y":{"field":"y","type":"quantitative"},"x2":{"field":"x2"},"y2":{"field":"y2"},"fill":{"field":"k","type":"nominal","scale":{"domain":["white","gray","black"],"range":["#ffffff","#bfbfbf","#000000"]},"legend":null}}},
{"transform":[{"filter":"datum.e==='lbl'"}],"mark":{"type":"text","font":"Open Sans","fontWeight":"bold","fontSize":14,"color":"#000"},"encoding":{"x":{"field":"x","type":"quantitative"},"y":{"field":"y","type":"quantitative"},"text":{"field":"t"}}},
{"transform":[{"filter":"datum.e==='lblw'"}],"mark":{"type":"text","font":"Open Sans","fontWeight":"bold","fontSize":14,"color":"#fff"},"encoding":{"x":{"field":"x","type":"quantitative"},"y":{"field":"y","type":"quantitative"},"text":{"field":"t"}}}
]},
{"width":122,"height":92,"layer":[
{"data":{"name":"bars"},"transform":[{"filter":"datum.c==='B4c1'"}],"layer":[
{"mark":{"type":"bar","fill":"#595959","stroke":"#000","strokeWidth":1},"encoding":{"x":{"field":"cat","type":"nominal","title":"Number of steps (n)","scale":{"domain":["1","2","3","4",">","n.d."],"paddingInner":0.2,"paddingOuter":0.09,"align":0.7}},"y":{"field":"val","type":"quantitative","scale":{"domain":[0,30]},"title":"% bleaching"}}},
{"mark":{"type":"errorbar","ticks":true,"color":"#000","thickness":1,"size":6},"encoding":{"x":{"field":"cat","type":"nominal","title":"Number of steps (n)"},"y":{"field":"val","type":"quantitative","scale":{"domain":[0,30]},"title":"% bleaching"},"yError":{"field":"err"}}},
{"transform":[{"calculate":"datum.val+datum.err","as":"top"}],"mark":{"type":"text","baseline":"bottom","dy":-6},"encoding":{"x":{"field":"cat","type":"nominal","title":"Number of steps (n)"},"y":{"field":"top","type":"quantitative","scale":{"domain":[0,30]},"title":"% bleaching"},"text":{"field":"n"}}}
]},
{"data":{"name":"notes"},"transform":[{"filter":"datum.c==='B4c1' && datum.k==='pct'"}],"mark":{"type":"text","fontSize":18},"encoding":{"x":{"field":"xi","type":"quantitative","scale":{"domain":[-0.527,5.453],"nice":false,"zero":false},"axis":null},"y":{"field":"yv","type":"quantitative","scale":{"domain":[0,30]},"title":"% bleaching"},"text":{"field":"t"}}}
],"resolve":{"scale":{"x":"independent"}}},
{"width":143,"height":94,"layer":[
{"data":{"name":"bars"},"transform":[{"filter":"datum.c==='B4c2'"}],"layer":[
{"mark":{"type":"bar","fill":"#595959","stroke":"#000","strokeWidth":1},"encoding":{"x":{"field":"cat","type":"nominal","title":"Number of steps (n)","scale":{"domain":["1","2","3","4",">","n.d."],"paddingInner":0.2,"paddingOuter":0.605,"align":0.105},"axis":{"titleX":61}},"y":{"field":"val","type":"quantitative","scale":{"domain":[0,32]},"title":"% bleaching"}}},
{"mark":{"type":"errorbar","ticks":true,"color":"#000","thickness":1,"size":6},"encoding":{"x":{"field":"cat","type":"nominal","title":"Number of steps (n)"},"y":{"field":"val","type":"quantitative","scale":{"domain":[0,32]},"title":"% bleaching"},"yError":{"field":"err"}}},
{"transform":[{"calculate":"datum.val+datum.err","as":"top"}],"mark":{"type":"text","baseline":"bottom","dy":-6},"encoding":{"x":{"field":"cat","type":"nominal","title":"Number of steps (n)"},"y":{"field":"top","type":"quantitative","scale":{"domain":[0,32]},"title":"% bleaching"},"text":{"field":"n"}}}
]},
{"data":{"name":"notes"},"transform":[{"filter":"datum.c==='B4c2' && datum.k==='pct'"}],"mark":{"type":"text","fontSize":18},"encoding":{"x":{"field":"xi","type":"quantitative","scale":{"domain":[-0.527,6.483],"nice":false,"zero":false},"axis":null},"y":{"field":"yv","type":"quantitative","scale":{"domain":[0,32]},"title":"% bleaching"},"text":{"field":"t"}}}
],"resolve":{"scale":{"x":"independent"}}},
{"width":122,"height":134,"layer":[
{"data":{"name":"bars"},"transform":[{"filter":"datum.c==='B4c3'"}],"layer":[
{"mark":{"type":"bar","fill":"#595959","stroke":"#000","strokeWidth":1},"encoding":{"x":{"field":"cat","type":"nominal","title":"Number of steps (n)","scale":{"domain":["1","2","3","4",">","n.d."],"paddingInner":0.2,"paddingOuter":0.09,"align":0.7}},"y":{"field":"val","type":"quantitative","scale":{"domain":[0,48]},"title":"% bleaching"}}},
{"mark":{"type":"errorbar","ticks":true,"color":"#000","thickness":1,"size":6},"encoding":{"x":{"field":"cat","type":"nominal","title":"Number of steps (n)"},"y":{"field":"val","type":"quantitative","scale":{"domain":[0,48]},"title":"% bleaching"},"yError":{"field":"err"}}},
{"transform":[{"calculate":"datum.val+datum.err","as":"top"}],"mark":{"type":"text","baseline":"bottom","dy":-6},"encoding":{"x":{"field":"cat","type":"nominal","title":"Number of steps (n)"},"y":{"field":"top","type":"quantitative","scale":{"domain":[0,48]},"title":"% bleaching"},"text":{"field":"n"}}}
]},
{"data":{"name":"notes"},"transform":[{"filter":"datum.c==='B4c3' && datum.k==='pct'"}],"mark":{"type":"text","fontSize":18},"encoding":{"x":{"field":"xi","type":"quantitative","scale":{"domain":[-0.527,5.453],"nice":false,"zero":false},"axis":null},"y":{"field":"yv","type":"quantitative","scale":{"domain":[0,48]},"title":"% bleaching"},"text":{"field":"t"}}}
],"resolve":{"scale":{"x":"independent"}}}
],
"config": {
"font": "Lato",
"view": {"stroke": null},
"axis": {"labelColor": "#000", "titleColor": "#000", "titleFontWeight": "normal", "grid": false, "labelFont": "Lato", "titleFont": "Lato"},
"axisX": {"domain": false, "ticks": false, "tickSize": 0, "labelFontSize": 9.5, "labelPadding": 8, "titleFontSize": 13, "titlePadding": 7, "labelAngle": 0},
"axisY": {"domainColor": "#a6a6a6", "domainWidth": 1.5, "tickColor": "#a6a6a6", "tickSize": 4, "labelFontSize": 13, "labelPadding": 3, "titleFontSize": 13, "titlePadding": 10, "minExtent": 21, "maxExtent": 21},
"text": {"fontSize": 14, "color": "#000"},
"title": {"fontSize": 20, "fontWeight": "bold", "offset": 18, "color": "#000", "anchor": "middle", "font": "Lato"}
}
}
